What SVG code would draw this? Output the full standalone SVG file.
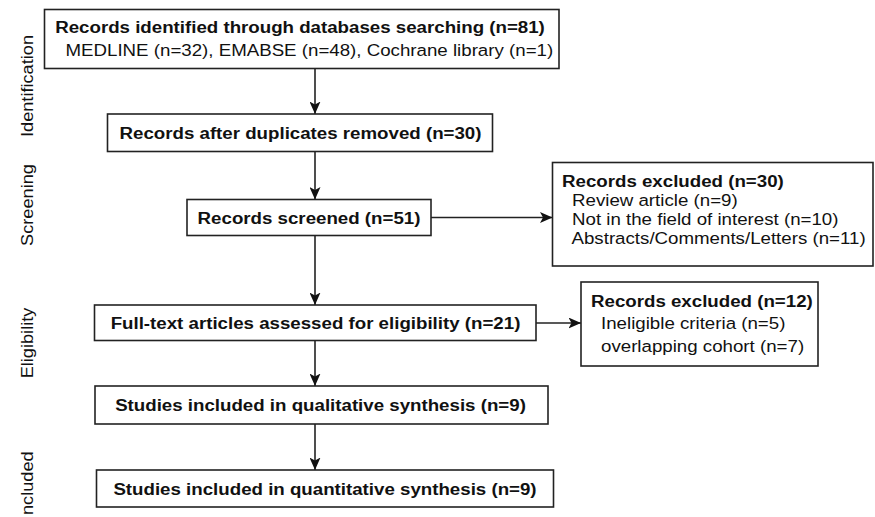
<svg xmlns="http://www.w3.org/2000/svg" width="875" height="517" viewBox="0 0 875 517">
<defs>
<style>
.box{fill:#fff;stroke:#222;stroke-width:1.6}
.t{font-family:"Liberation Sans",Arial,sans-serif;font-size:17px;fill:#111}
.b{font-weight:bold}
.m{text-anchor:middle}
.con line{stroke:#222;stroke-width:1.6;marker-end:url(#ah)}
</style>
<marker id="ah" markerUnits="userSpaceOnUse" markerWidth="13" markerHeight="11" viewBox="0 0 13 11" refX="12.5" refY="5.5" orient="auto">
<path d="M0,0 L12.5,5.5 L0,11 L3,5.5 Z" fill="#111"/>
</marker>
</defs>
<rect width="875" height="517" fill="#fff"/>
<g id="stages">
<text class="t" transform="translate(33,86) rotate(-90) scale(1.07,1)" text-anchor="middle">Identification</text>
<text class="t" transform="translate(33,205) rotate(-90) scale(1.07,1)" text-anchor="middle">Screening</text>
<text class="t" transform="translate(33,343) rotate(-90) scale(1.07,1)" text-anchor="middle">Eligibility</text>
<text class="t" transform="translate(32.5,515) rotate(-90) scale(1.07,1)">ncluded</text>
</g>
<g id="connectors" class="con">
<line x1="315" y1="68.5" x2="315" y2="114"/>
<line x1="315" y1="151.5" x2="315" y2="199.5"/>
<line x1="315" y1="235.5" x2="315" y2="305"/>
<line x1="315" y1="340.5" x2="315" y2="386"/>
<line x1="315" y1="424" x2="315" y2="470"/>
<line x1="431" y1="217.5" x2="552.5" y2="217.5"/>
<line x1="536" y1="323" x2="581" y2="323"/>
</g>
<g id="identified">
<rect class="box" x="44.5" y="9.5" width="514.5" height="59"/>
<text class="t b m" transform="translate(300,32.5) scale(1.1,1)">Records identified through databases searching (n=81)</text>
<text class="t" transform="translate(65.5,55.5) scale(1.1,1)">MEDLINE (n=32), EMABSE (n=48), Cochrane library (n=1)</text>
</g>
<g id="duplicates">
<rect class="box" x="107.5" y="114" width="385" height="37.5"/>
<text class="t b m" transform="translate(300.5,138.5) scale(1.1,1)">Records after duplicates removed (n=30)</text>
</g>
<g id="screened">
<rect class="box" x="187" y="199.5" width="244" height="36"/>
<text class="t b m" transform="translate(309,223.5) scale(1.1,1)">Records screened (n=51)</text>
</g>
<g id="excluded1">
<rect class="box" x="552.5" y="162.5" width="320.5" height="103.5"/>
<text class="t b" transform="translate(562,186.5) scale(1.1,1)">Records excluded (n=30)</text>
<text class="t" transform="translate(572,205.5) scale(1.1,1)">Review article (n=9)</text>
<text class="t" transform="translate(572,224.5) scale(1.1,1)">Not in the field of interest (n=10)</text>
<text class="t" transform="translate(571.5,243.5) scale(1.1,1)">Abstracts/Comments/Letters (n=11)</text>
</g>
<g id="fulltext">
<rect class="box" x="94.5" y="305" width="441.5" height="35.5"/>
<text class="t b m" transform="translate(315.5,328.5) scale(1.1,1)">Full-text articles assessed for eligibility (n=21)</text>
</g>
<g id="excluded2">
<rect class="box" x="581" y="282" width="237" height="84"/>
<text class="t b" transform="translate(591,306.5) scale(1.1,1)">Records excluded (n=12)</text>
<text class="t" transform="translate(601,329) scale(1.1,1)">Ineligible criteria (n=5)</text>
<text class="t" transform="translate(601,351.5) scale(1.1,1)">overlapping cohort (n=7)</text>
</g>
<g id="qualitative">
<rect class="box" x="95" y="386" width="453" height="38"/>
<text class="t b m" transform="translate(320.5,411) scale(1.1,1)">Studies included in qualitative synthesis (n=9)</text>
</g>
<g id="quantitative">
<rect class="box" x="96.5" y="470" width="457" height="37"/>
<text class="t b m" transform="translate(325,494.5) scale(1.1,1)">Studies included in quantitative synthesis (n=9)</text>
</g>
</svg>
